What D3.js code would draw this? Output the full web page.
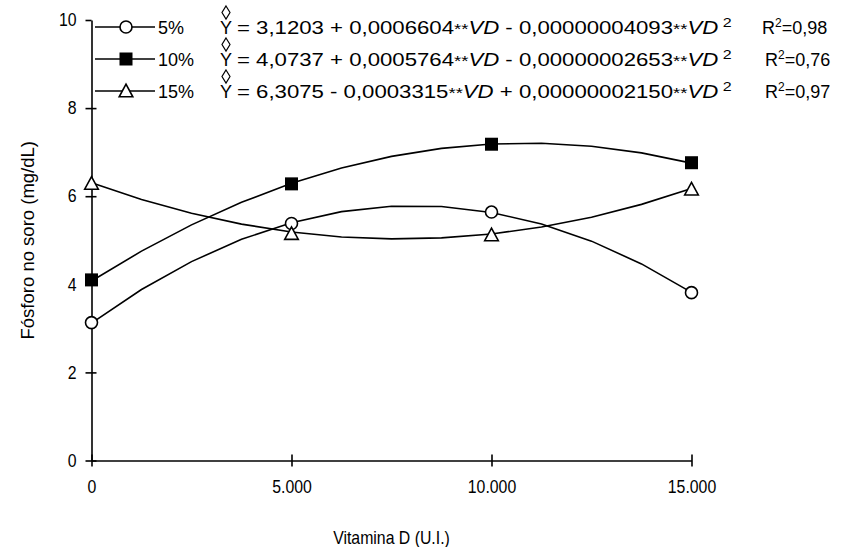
<!DOCTYPE html>
<html>
<head>
<meta charset="utf-8">
<script src="https://cdn.jsdelivr.net/npm/d3@7"></script>
<style>
  body { margin: 0; background: #fff; }
  text { font-family: "Liberation Sans", Arial, sans-serif; fill: #000; }
</style>
</head>
<body>
<svg id="chart" width="844" height="547"></svg>
<script>
// Vitamin D doses (U.I.)
const doses = [0, 5000, 10000, 15000];
const seriesNames = ["5%", "10%", "15%"];

// Observed serum phosphorus means (mg/dL)
const obs5 = [3.13, 5.38, 5.64, 3.81];
const obs10 = [4.10, 6.28, 7.18, 6.76];
const obs15 = [6.29, 5.15, 5.12, 6.16];

// Fitted quadratic coefficients: b0, b1 (VD), b2 (VD^2)
const coef5 = [3.1203, 0.0006604, -0.00000004093];
const coef10 = [4.0737, 0.0005764, -0.00000002653];
const coef15 = [6.3075, -0.0003315, 0.00000002150];

// Equation pieces as printed
const eqB0 = ["3,1203", "4,0737", "6,3075"];
const eqSign1 = ["+", "+", "-"];
const eqB1 = ["0,0006604", "0,0005764", "0,0003315"];
const eqSign2 = ["-", "-", "+"];
const eqB2 = ["0,00000004093", "0,00000002653", "0,00000002150"];
const r2 = ["0,98", "0,76", "0,97"];

const xTicks = [0, 5000, 10000, 15000];
const yTicks = [0, 2, 4, 6, 8, 10];

const observed = [obs5, obs10, obs15];
const coefs = [coef5, coef10, coef15];
const markers = ["circle", "square", "triangle"];

const FONT = '"Liberation Sans", Arial, sans-serif';
const svg = d3.select("#chart");
const x = d3.scaleLinear().domain([0, 15000]).range([91.5, 691.5]);
const y = d3.scaleLinear().domain([0, 10]).range([460.5, 20]);

const ptBR = d3.formatLocale({ decimal: ",", thousands: ".", grouping: [3], currency: ["", ""] });
const fmtX = ptBR.format(",");

// Narrow the glyphs horizontally around their anchor point
function squeeze(sel, sx) {
  sel.each(function () {
    const t = d3.select(this);
    const ax = +t.attr("x") || 0;
    t.attr("transform", `translate(${ax},0) scale(${sx},1) translate(${-ax},0)`);
  });
}

// Y axis with crossing ticks
const yAxis = svg.append("g")
  .attr("transform", `translate(${x(0)},0)`)
  .call(d3.axisLeft(y).tickValues(yTicks).tickSizeInner(6).tickSizeOuter(0).tickPadding(9));
yAxis.select(".domain").attr("stroke", "#000").attr("stroke-width", 1.6);
yAxis.selectAll(".tick line").attr("stroke", "#000").attr("stroke-width", 1.6)
  .attr("x2", -6).attr("x1", d => d === 10 ? 0 : 5);
yAxis.selectAll(".tick text").attr("font-size", 18).style("font-family", FONT).call(squeeze, 0.88);

// X axis with crossing ticks
const xAxis = svg.append("g")
  .attr("transform", `translate(0,${y(0)})`)
  .call(d3.axisBottom(x).tickValues(xTicks).tickFormat(fmtX).tickSizeInner(6).tickSizeOuter(0).tickPadding(14));
xAxis.select(".domain").attr("stroke", "#000").attr("stroke-width", 1.6);
xAxis.selectAll(".tick line").attr("stroke", "#000").attr("stroke-width", 1.6).attr("y1", -6).attr("y2", 6);
xAxis.selectAll(".tick text").attr("font-size", 18).style("font-family", FONT).call(squeeze, 0.88);

// Axis titles
svg.append("text")
  .attr("x", x(7500)).attr("y", 544)
  .attr("text-anchor", "middle").attr("font-size", 18)
  .text("Vitamina D (U.I.)").call(squeeze, 0.88);
svg.append("text")
  .attr("transform", `translate(34,${y(5)}) rotate(-90)`)
  .attr("text-anchor", "middle").attr("font-size", 18.5)
  .text("Fósforo no soro (mg/dL)");

// Fitted curves, evaluated every 1250 U.I.
const steps = d3.range(0, 15001, 1250);
const line = d3.line().x(d => x(d[0])).y(d => y(d[1]));
coefs.forEach(c => {
  const pts = steps.map(v => [v, c[0] + c[1] * v + c[2] * v * v]);
  svg.append("path").attr("d", line(pts))
    .attr("fill", "none").attr("stroke", "#000").attr("stroke-width", 1.6);
});

function drawMarker(g, type, cx, cy) {
  if (type === "circle") {
    g.append("circle").attr("cx", cx).attr("cy", cy).attr("r", 6)
      .attr("fill", "#fff").attr("stroke", "#000").attr("stroke-width", 1.6);
  } else if (type === "square") {
    g.append("rect").attr("x", cx - 6.5).attr("y", cy - 6.5).attr("width", 13).attr("height", 13)
      .attr("fill", "#000");
  } else {
    const s = 6.8;
    g.append("path")
      .attr("d", `M${cx},${cy - s} L${cx + s},${cy + s * 0.85} L${cx - s},${cy + s * 0.85} Z`)
      .attr("fill", "#fff").attr("stroke", "#000").attr("stroke-width", 1.6);
  }
}

// Observed means
const markG = svg.append("g");
observed.forEach((vals, i) => {
  vals.forEach((v, j) => drawMarker(markG, markers[i], x(doses[j]), y(v)));
});

// Legend
const rowY = [27, 59, 91];
const eqStart = 237, eqEnd = 732;
const leg = svg.append("g");
seriesNames.forEach((name, i) => {
  const ry = rowY[i];
  const base = ry + 6.5;
  leg.append("line").attr("x1", 95).attr("x2", 155).attr("y1", ry).attr("y2", ry)
    .attr("stroke", "#000").attr("stroke-width", 1.6);
  drawMarker(leg, markers[i], 126, ry);
  leg.append("text").attr("x", 158).attr("y", base).attr("font-size", 18).text(name);

  // Y with a diamond hat
  leg.append("text").attr("x", 220).attr("y", base).attr("font-size", 18).text("Y");
  const hx = 226, hTop = ry - 21, hBot = ry - 8;
  leg.append("path")
    .attr("d", `M${hx},${hTop} L${hx + 4},${(hTop + hBot) / 2} L${hx},${hBot} L${hx - 4},${(hTop + hBot) / 2} Z`)
    .attr("fill", "none").attr("stroke", "#000").attr("stroke-width", 1.2);

  const eg = leg.append("g");
  const t = eg.append("text").attr("x", 0).attr("y", 0).attr("font-size", 18)
    .attr("xml:space", "preserve");
  t.append("tspan").text(`= ${eqB0[i]} ${eqSign1[i]} ${eqB1[i]}`);
  t.append("tspan").attr("font-size", 15).text("**");
  t.append("tspan").attr("font-style", "italic").text("VD");
  t.append("tspan").text(` ${eqSign2[i]} ${eqB2[i]}`);
  t.append("tspan").attr("font-size", 15).text("**");
  t.append("tspan").attr("font-style", "italic").text("VD");
  t.append("tspan").attr("font-size", 13).attr("dy", -7).text(" 2");
  const w = t.node().getBBox().width;
  eg.attr("transform", `translate(${eqStart},${base}) scale(${(eqEnd - eqStart) / w},1)`);

  const r = leg.append("text").attr("x", i === 0 ? 762 : 765).attr("y", base).attr("font-size", 18);
  r.append("tspan").text("R");
  r.append("tspan").attr("font-size", 12).attr("dy", -7).text("2");
  r.append("tspan").attr("dy", 7).text("=" + r2[i]);
});
</script>
</body>
</html>
